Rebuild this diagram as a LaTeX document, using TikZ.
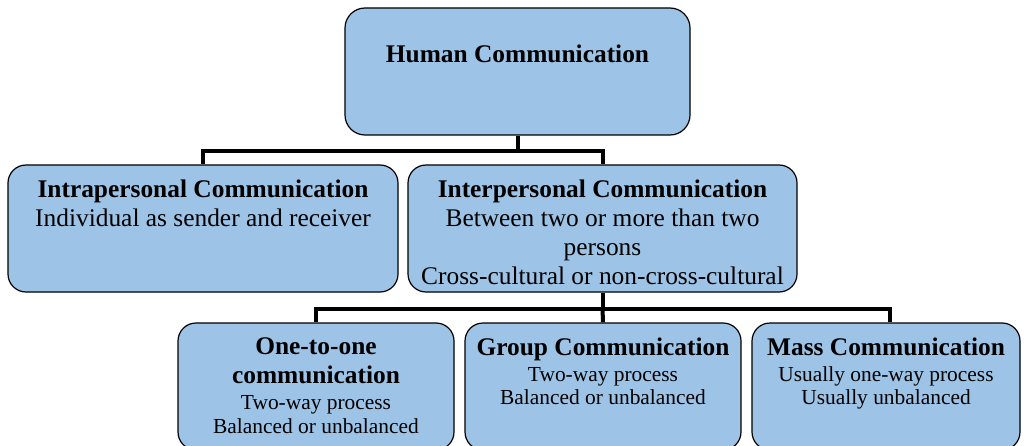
\documentclass[tikz,border=0pt]{standalone}
\usepackage{fontspec}
\setmainfont{Liberation Serif}
\usetikzlibrary{positioning}
\definecolor{boxblue}{RGB}{157,195,230}
\newcommand{\subfont}{\fontsize{10.7}{12.5}\selectfont}
\tikzstyle{box} = [rectangle, rounded corners=9pt, draw=black, line width=0.6pt, fill=boxblue, inner sep=0pt]
\tikzstyle{bigbox} = [box, minimum width=195pt, minimum height=63.5pt]
\tikzstyle{smallbox} = [box, minimum width=138pt, minimum height=63.5pt]
\tikzstyle{boxtext} = [inner sep=0pt, align=center, font=\fontsize{12.7}{14.5}\selectfont]
\tikzstyle{link} = [line width=2pt]

\begin{document}
\begin{tikzpicture}[x=1pt, y=1pt]
    \useasboundingbox (0,0) rectangle (513.5,222.5);
    \clip (0,0) rectangle (513.5,222.5);

    % boxes
    \node (human) [box, rounded corners=10pt, minimum width=172.5pt, minimum height=63.5pt] at (258.75,186.75) {};
    \node (intra) [bigbox] at (101.5,108.25) {};
    \node (inter) [bigbox, minimum width=194.5pt] at (301.25,108.25) {};
    \node (one) [smallbox] at (158,29.25) {};
    \node (group) [smallbox] at (301.5,29.25) {};
    \node (mass) [smallbox, minimum width=134pt] at (443,29.25) {};

    % texts
    \node (human-txt) [boxtext, below=18.5pt of human.north] {\textbf{Human Communication}};
    \node (intra-txt) [boxtext, below=7.5pt of intra.north] {\textbf{Intrapersonal Communication}\\Individual as sender and receiver};
    \node (inter-txt) [boxtext, below=7.5pt of inter.north] {\textbf{Interpersonal Communication}\\Between two or more than two\\persons\\Cross-cultural or non-cross-cultural};
    \node (one-txt) [boxtext, below=7.5pt of one.north] {\textbf{One-to-one}\\\textbf{communication}\\[-1.5pt]{\subfont Two-way process}\\[-2.5pt]{\subfont Balanced or unbalanced}};
    \node (group-txt) [boxtext, below=7.5pt of group.north] {\textbf{Group Communication}\\[-1.5pt]{\subfont Two-way process}\\[-3pt]{\subfont Balanced or unbalanced}};
    \node (mass-txt) [boxtext, below=7.5pt of mass.north] {\textbf{Mass Communication}\\[-1.5pt]{\subfont Usually one-way process}\\[-3pt]{\subfont Usually unbalanced}};

    % tree lines
    \draw [link] (human.south) -- ++(0,-7.5) coordinate (split1);
    \draw [link] (split1) -| (intra.north);
    \draw [link] (split1) -| (inter.north);
    \draw [link] (inter.south) -- ++(0,-8) coordinate (split2);
    \draw [link] (split2) -| (one.north);
    \draw [link] (split2) -- (group.north);
    \draw [link] (split2) -| ([xshift=2pt]mass.north);
\end{tikzpicture}
\end{document}
